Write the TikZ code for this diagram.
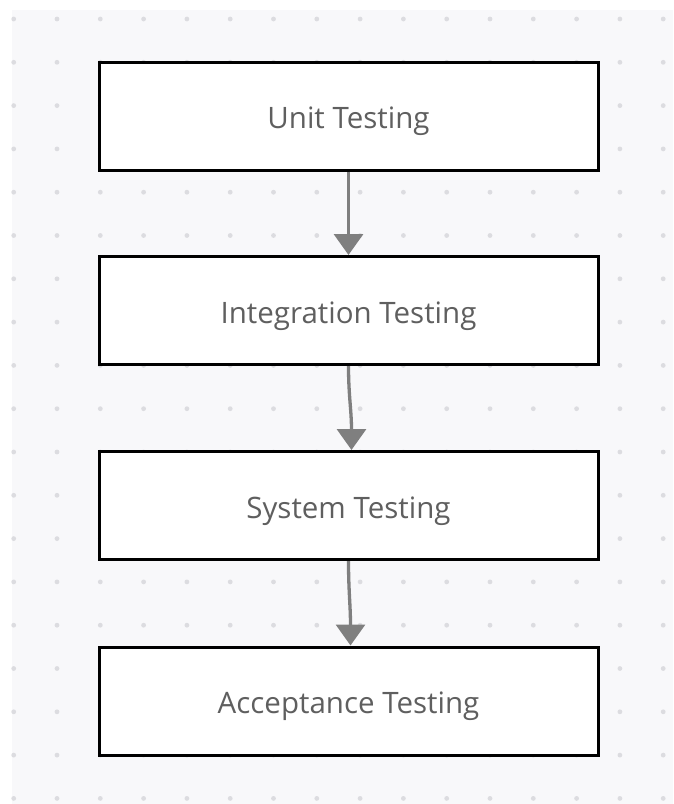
\documentclass[tikz,border=0pt]{standalone}
\usepackage{fontspec}
\setmainfont{Open Sans}
\usetikzlibrary{arrows.meta}
\definecolor{canvas}{HTML}{F8F8FA}
\definecolor{griddot}{HTML}{DCDCE0}
\definecolor{flowarrow}{HTML}{7F7F7F}
\definecolor{labeltext}{HTML}{5F5F5F}
\tikzset{
  stagebox/.style={draw=black, line width=3pt, fill=white, minimum width=499pt,
    minimum height=108pt, inner sep=0pt, text=labeltext,
    text height=25pt, text depth=0pt,
    font=\fontsize{29.5}{33}\selectfont},
  flow/.style={draw=flowarrow, line width=3.3pt,
    -{Triangle[width=29pt,length=21pt]}}
}
\begin{document}
\begin{tikzpicture}[x=1pt,y=-1pt]
  \useasboundingbox (0,0) rectangle (673,804);
  % canvas with dotted grid
  \fill[canvas] (12,10) rectangle (673,804);
  \foreach \i in {0,...,15} {
    \foreach \j in {0,...,18} {
      \fill[griddot] ({13.7+43.3*\i},{19+43.3*\j}) circle (2.4pt);
    }
  }
  % stages
  \node[stagebox] (unit) at (348.5,116) {Unit Testing};
  \node[stagebox] (integ) at (348.5,310.5) {Integration Testing};
  \node[stagebox] (sys) at (348.5,505.5) {System Testing};
  \node[stagebox] (accept) at (348.5,701) {Acceptance Testing};
  % connectors
  \draw[flow] (unit.south) -- (integ.north);
  \draw[flow] (integ.south) .. controls ++(0,30) and ++(0,-40) .. ([xshift=3pt]sys.north);
  \draw[flow] (sys.south) .. controls ++(0,30) and ++(0,-40) .. ([xshift=2pt]accept.north);
\end{tikzpicture}
\end{document}
